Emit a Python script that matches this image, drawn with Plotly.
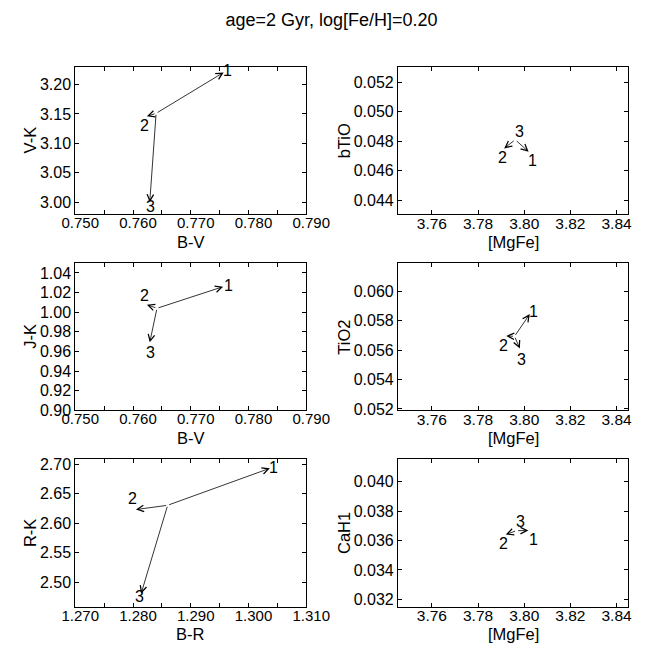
import plotly.graph_objects as go

# ---- data ----
title_text = "age=2 Gyr, log[Fe/H]=0.20"
point_labels = ["1", "2", "3"]

bv_origin = 0.7640
bv = [0.7757, 0.7624, 0.7629]
vk_origin = 3.151
vk = [3.2205, 3.146, 3.000]

bv2_origin = 0.76415
bv2 = [0.7756, 0.7624, 0.7629]
jk_origin = 1.004
jk = [1.026, 1.0077, 0.9693]

br_origin = 1.2860
br = [1.3037, 1.2805, 1.2814]
rk_origin = 2.6305
rk = [2.6933, 2.6233, 2.4805]

mgfe_a_origin = 3.7961
mgfe_a = [3.8019, 3.7913, 3.7966]
btio_origin = 0.04810
btio = [0.04728, 0.04751, 0.04816]

mgfe_b_origin = 3.7958
mgfe_b = [3.8024, 3.7922, 3.7981]
tio2_origin = 0.05693
tio2 = [0.05844, 0.05696, 0.0561]

mgfe_c_origin = 3.7967
mgfe_c = [3.8018, 3.7920, 3.7970]
cah1_origin = 0.03667
cah1 = [0.03667, 0.0364, 0.03673]

# ---- layout / style ----
FONT = "Liberation Sans, Arial, sans-serif"
W, H = 663, 654
XTICK_SIZE = [15, 15.5]
YTICK_SIZE = 16
TITLE_SIZE = 16.5
LABEL_SIZE = 16

def dom_x(l, r):
    return [l / W, r / W]

def dom_y(t, b):
    return [1 - b / H, 1 - t / H]

col_px = [(65, 310), (407.3, 651.7)]
row_px = [(65, 215), (265, 415), (465, 615)]
col_x = [dom_x(*c) for c in col_px]
row_y = [dom_y(*r) for r in row_px]
ytitle_px = [17, 350]
xtitle_gap = 28

panels = [
    dict(r=0, c=0, xo=bv_origin, xs=bv, yo=vk_origin, ys=vk, xt="B-V", yt="V-K",
         xr=[0.750, 0.790], yr=[2.98, 3.23], xd=0.010, xf=".3f", yd=0.05, yf=".2f", minor=0.005,
         sh=[(4, 2), (-2, -9), (1, -4)]),
    dict(r=0, c=1, xo=mgfe_a_origin, xs=mgfe_a, yo=btio_origin, ys=btio, xt="[MgFe]", yt="bTiO",
         xr=[3.7453, 3.8451], yr=[0.04305, 0.05305], xd=0.02, xf=".2f", yd=0.002, yf=".3f", minor=None,
         sh=[(4, -9), (-2, -9), (3, 7)]),
    dict(r=1, c=0, xo=bv2_origin, xs=bv2, yo=jk_origin, ys=jk, xt="B-V", yt="J-K",
         xr=[0.750, 0.790], yr=[0.90, 1.05], xd=0.010, xf=".3f", yd=0.02, yf=".2f", minor=0.005,
         sh=[(5, 1), (-2, 9), (1, -10)]),
    dict(r=1, c=1, xo=mgfe_b_origin, xs=mgfe_b, yo=tio2_origin, ys=tio2, xt="[MgFe]", yt="TiO2",
         xr=[3.7453, 3.8451], yr=[0.0519, 0.0619], xd=0.02, xf=".2f", yd=0.002, yf=".3f", minor=None,
         sh=[(4, 3), (-3, -10), (2, -11)]),
    dict(r=2, c=0, xo=br_origin, xs=br, yo=rk_origin, ys=rk, xt="B-R", yt="R-K",
         xr=[1.270, 1.310], yr=[2.4583, 2.7083], xd=0.010, xf=".3f", yd=0.05, yf=".2f", minor=0.005,
         sh=[(4, 1), (-3, 11), (-2, -3)]),
    dict(r=2, c=1, xo=mgfe_c_origin, xs=mgfe_c, yo=cah1_origin, ys=cah1, xt="[MgFe]", yt="CaH1",
         xr=[3.7453, 3.8451], yr=[0.0315, 0.0415], xd=0.02, xf=".2f", yd=0.002, yf=".3f", minor=None,
         sh=[(5, -9), (-2, -9), (3, 8)]),
]

fig = go.Figure()
layout = dict(
    width=W, height=H,
    margin=dict(l=0, r=0, t=0, b=0),
    paper_bgcolor="white", plot_bgcolor="white",
    font=dict(family=FONT, size=15, color="black"),
    showlegend=False,
    title=dict(text=title_text, x=0.5, xanchor="center", y=1 - 20 / H, yanchor="middle",
               font=dict(family=FONT, size=18, color="black")),
)
annotations = []

for i, p in enumerate(panels):
    n = i + 1
    xa = "xaxis" if n == 1 else f"xaxis{n}"
    ya = "yaxis" if n == 1 else f"yaxis{n}"
    xref = "x" if n == 1 else f"x{n}"
    yref = "y" if n == 1 else f"y{n}"
    axis_common = dict(
        showgrid=False, zeroline=False, showline=True, linecolor="black", linewidth=1,
        mirror="ticks", ticks="inside", ticklen=4, tickwidth=1, tickcolor="black",
    )
    xdict = dict(axis_common, domain=col_x[p["c"]], range=p["xr"], anchor=yref,
                 dtick=p["xd"], tick0=0, tickformat=p["xf"], ticklabelstandoff=-5,
                 tickfont=dict(family=FONT, size=XTICK_SIZE[p["c"]], color="black"))
    if p["minor"]:
        xdict["minor"] = dict(dtick=p["minor"], ticks="inside", ticklen=4, tickcolor="black", showgrid=False)
        xdict["ticklabelshift"] = 5
    ydict = dict(axis_common, domain=row_y[p["r"]], range=p["yr"], anchor=xref,
                 dtick=p["yd"], tick0=0, tickformat=p["yf"], ticklabelstandoff=0,
                 tickfont=dict(family=FONT, size=YTICK_SIZE, color="black"))
    layout[xa] = xdict
    layout[ya] = ydict
    fig.add_trace(go.Scatter(x=[p["xo"]], y=[p["yo"]], mode="markers",
                             marker=dict(size=1, color="rgba(0,0,0,0)"),
                             xaxis=xref, yaxis=yref, hoverinfo="skip"))
    # axis titles
    cl, cr = col_px[p["c"]]
    rt, rb = row_px[p["r"]]
    annotations.append(dict(
        x=(cl + cr) / 2 / W, y=1 - (rb + xtitle_gap) / H, xref="paper", yref="paper",
        text=p["xt"], showarrow=False, xanchor="center", yanchor="middle",
        font=dict(family=FONT, size=TITLE_SIZE, color="black")))
    annotations.append(dict(
        x=ytitle_px[p["c"]] / W, y=1 - (rt + rb) / 2 / H, xref="paper", yref="paper",
        text=p["yt"], showarrow=False, xanchor="center", yanchor="middle", textangle=-90,
        font=dict(family=FONT, size=TITLE_SIZE, color="black")))
    for k in range(3):
        annotations.append(dict(
            x=p["xs"][k], y=p["ys"][k], xref=xref, yref=yref,
            ax=p["xo"], ay=p["yo"], axref=xref, ayref=yref,
            showarrow=True, arrowhead=5, arrowsize=1.6, arrowwidth=0.8,
            arrowcolor="black", standoff=0, startstandoff=0, text=""))
        dx, dy = p["sh"][k]
        annotations.append(dict(
            x=p["xs"][k], y=p["ys"][k], xref=xref, yref=yref,
            text=point_labels[k], showarrow=False, xshift=dx, yshift=dy,
            font=dict(family=FONT, size=LABEL_SIZE, color="black")))

layout["annotations"] = annotations
fig.update_layout(**layout)
fig.write_html("out.html", config={"displayModeBar": False},
               post_script="document.body.style.margin='0';")
